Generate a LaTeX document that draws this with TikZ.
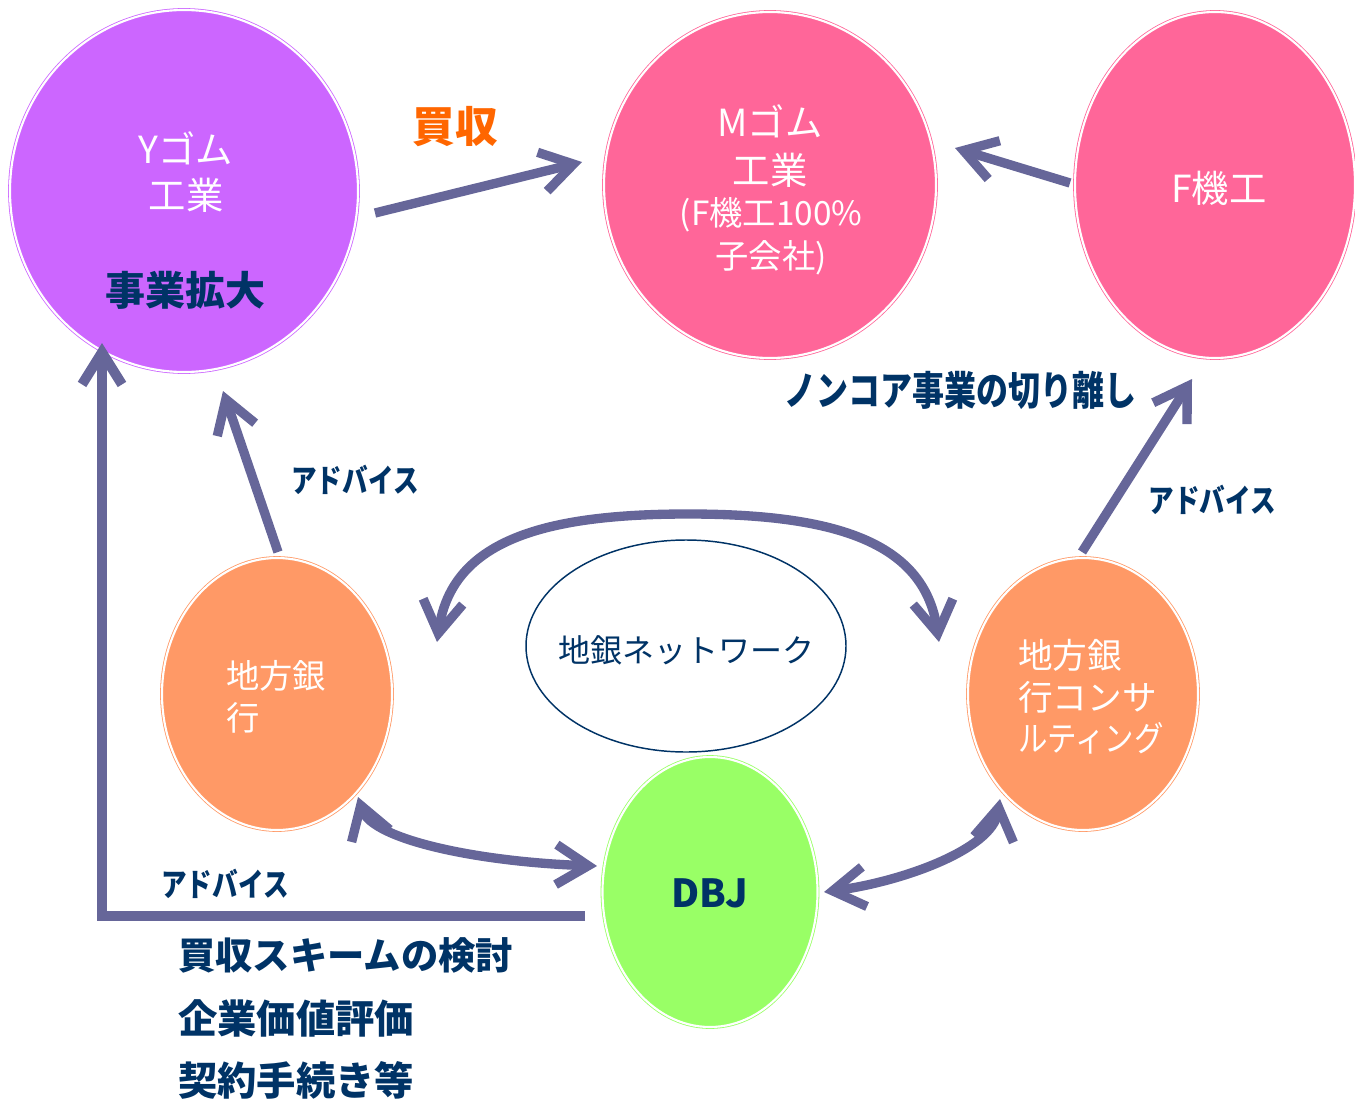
\documentclass[tikz,border=0pt]{standalone}
\usepackage{fontspec}
\setmainfont{Noto Sans CJK JP}
\newfontfamily\condfont[FakeStretch=0.8]{Noto Sans CJK JP}
\newfontfamily\semicond[FakeStretch=0.85]{Noto Sans CJK JP}
\usetikzlibrary{shapes.geometric,arrows.meta}
\definecolor{ypurple}{HTML}{CC66FF}
\definecolor{mpink}{HTML}{FF6699}
\definecolor{borange}{HTML}{FF9966}
\definecolor{dgreen}{HTML}{99FF66}
\definecolor{arrowc}{HTML}{666699}
\definecolor{navy}{HTML}{003366}
\definecolor{buyorange}{HTML}{FF6600}
\begin{document}
\begin{tikzpicture}[x=0.75pt,y=-0.75pt,
  bubble/.style={ellipse, inner sep=0pt, fill=#1, draw=#1, double=white, double distance=1.6pt, line width=0.6pt},
  arr/.style={draw=arrowc, line width=7pt, line join=miter, -{Straight Barb[length=24pt,width=30pt]}},
  darr/.style={draw=arrowc, line width=7pt, {Straight Barb[length=24pt,width=30pt]}-{Straight Barb[length=24pt,width=30pt]}},
  wtext/.style={text=white, align=center, inner sep=0pt},
  ntext/.style={text=navy, inner sep=0pt, font=\bfseries\fontsize{29.5}{34}\selectfont},
  advice/.style={text=navy, inner sep=0pt, font=\condfont\bfseries\fontsize{24}{28}\selectfont}
]
\useasboundingbox (0,0) rectangle (1355,1102);

% circles
\node[bubble=ypurple, minimum width=261pt, minimum height=271.5pt] (Y) at (184,191) {};
\node[bubble=mpink, minimum width=249pt, minimum height=259.5pt] (M) at (770,185) {};
\node[bubble=mpink, minimum width=210pt, minimum height=259.5pt] (F) at (1215,185) {};
\node[bubble=borange, minimum width=172.5pt, minimum height=204pt] (bank) at (277,694) {};
\node[bubble=borange, minimum width=172.5pt, minimum height=204pt] (cons) at (1083,694) {};
\node[ellipse, draw=navy, line width=1.1pt, fill=white, inner sep=0pt, minimum width=240pt, minimum height=159pt] (net) at (686,646) {};
\node[bubble=dgreen, minimum width=161.25pt, minimum height=202.5pt] (dbj) at (710,892) {};

% texts in circles
\node[wtext, font=\fontsize{28}{35}\selectfont] (ytxt) at (186,172) {Yゴム\\工業};
\node[text=navy, inner sep=0pt, font=\bfseries\fontsize{30}{36}\selectfont] (yexp) at (185,290) {事業拡大};
\node[wtext, font=\fontsize{28}{36}\selectfont] (mtxt1) at (770,146) {Mゴム\\工業};
\node[wtext, font=\fontsize{25}{32}\selectfont] (mtxt2) at (771,236) {(F機工100\%\\子会社)};
\node[wtext, font=\fontsize{28}{35}\selectfont] (ftxt) at (1219,188) {F機工};
\node[wtext, align=left, anchor=west, font=\fontsize{25}{31.5}\selectfont] (banktxt) at (226,697) {地方銀\\行};
\node[wtext, align=left, anchor=west, font=\fontsize{26}{31}\selectfont] (constxt) at (1018,697) {地方銀\\行コンサ\\{\semicond ルティング}};
\node[text=navy, inner sep=0pt, font=\fontsize{24}{28}\selectfont] (nettxt) at (686,650) {地銀ネットワーク};
\node[text=navy, inner sep=0pt, font=\bfseries\fontsize{29}{34}\selectfont] (dbjtxt) at (710,893) {DBJ};

% labels
\node[text=buyorange, inner sep=0pt, font=\bfseries\fontsize{32}{38}\selectfont] (buy) at (455,127) {買収};
\node[text=navy, inner sep=0pt, font=\condfont\bfseries\fontsize{30}{36}\selectfont] (noncore) at (960,390) {ノンコア事業の切り離し};
\node[advice] (adv1) at (355,480) {アドバイス};
\node[advice] (adv2) at (1212,500) {アドバイス};
\node[advice] (adv3) at (225,884) {アドバイス};
\node[ntext, anchor=west, font=\bfseries\fontsize{28}{34}\selectfont] (l1) at (178,955) {買収スキームの検討};
\node[ntext, anchor=west] (l2) at (178,1018) {企業価値評価};
\node[ntext, anchor=west] (l3) at (178,1080) {契約手続き等};

% connector end points
\coordinate (ymS) at (375,213);
\coordinate (ymE) at (582,162);
\coordinate (fmS) at (1070,183);
\coordinate (fmE) at (955,148);
\coordinate (byS) at (278,552);
\coordinate (byE) at (223,391);
\coordinate (cfS) at (1082,552);
\coordinate (cfE) at (1192,379);
\coordinate (dyS) at (585,916);
\coordinate (dyC) at (102,916);
\coordinate (dyE) at (102,343);
\coordinate (topL) at (437,642);
\coordinate (topM) at (688,514);
\coordinate (topR) at (939,642);
\coordinate (blL) at (358,797);
\coordinate (blR) at (597,866);
\coordinate (brL) at (824,892);
\coordinate (brR) at (1000,799);

% connectors
\draw[arr] (ymS) -- (ymE);
\draw[arr] (fmS) -- (fmE);
\draw[arr] (byS) -- (byE);
\draw[arr] (cfS) -- (cfE);
\draw[arr, line width=7.5pt] (dyS) -- (dyC) -- (dyE);
\draw[darr] (topL) .. controls (452,540) and (545,514) .. (topM) .. controls (831,514) and (924,540) .. (topR);
\draw[darr] (blL) .. controls (372,840) and (480,862) .. (blR);
\draw[darr] (brL) .. controls (900,882) and (992,850) .. (brR);
\end{tikzpicture}
\end{document}
